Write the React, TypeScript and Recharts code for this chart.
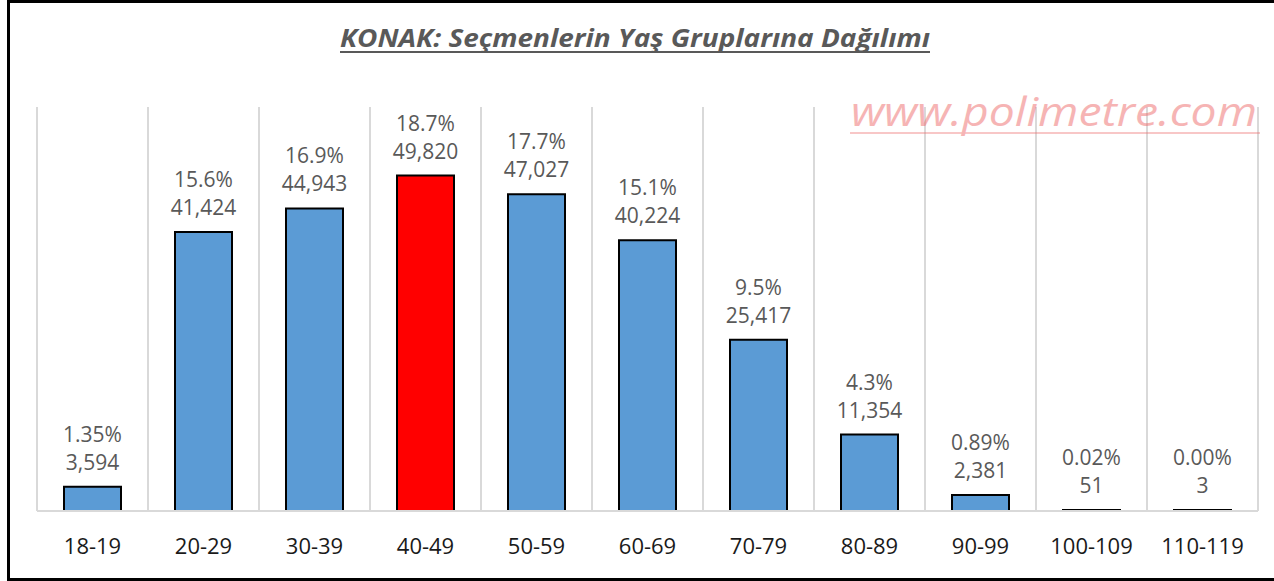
import React from "react";
import { BarChart, Bar, XAxis, YAxis, CartesianGrid, Cell, LabelList } from "recharts";

const categories = ["18-19", "20-29", "30-39", "40-49", "50-59", "60-69", "70-79", "80-89", "90-99", "100-109", "110-119"];
const voters = [3594, 41424, 44943, 49820, 47027, 40224, 25417, 11354, 2381, 51, 3];
const percentLabels = ["1.35%", "15.6%", "16.9%", "18.7%", "17.7%", "15.1%", "9.5%", "4.3%", "0.89%", "0.02%", "0.00%"];
const highlightIndex = 3;

const TITLE = "KONAK: Seçmenlerin Yaş Gruplarına Dağılımı";
const WATERMARK = "www.polimetre.com";

const data = categories.map((c, i) => ({ cat: c, value: voters[i], pct: percentLabels[i] }));

const FONT = "'Open Sans', 'Noto Sans', sans-serif";

const TwoLineLabel = (props: any) => {
  const { x, y, width, index } = props;
  const cx = x + width / 2;
  return (
    <g>
      <text x={cx} y={y - 53} textAnchor="middle" dominantBaseline="central" fontFamily={FONT} fontSize={21} fill="#595959">
        {percentLabels[index]}
      </text>
      <text x={cx} y={y - 25} textAnchor="middle" dominantBaseline="central" fontFamily={FONT} fontSize={21} fill="#595959">
        {voters[index].toLocaleString("en-US")}
      </text>
    </g>
  );
};

const Tick = (props: any) => {
  const { x, y, payload } = props;
  return (
    <text x={x} y={y + 43} textAnchor="middle" fontFamily={FONT} fontSize={22} fill="#1a1a1a">
      {payload.value}
    </text>
  );
};

export default function App() {
  return (
    <div style={{ position: "absolute", left: 0, top: 0, width: 1274, height: 581, overflow: "hidden", background: "#fff" }}>
      <div style={{ position: "absolute", left: 7, top: 0, width: 1290, height: 575, border: "3px solid #000", boxSizing: "content-box" }} />
      <div style={{ position: "absolute", left: 0, top: 0 }}>
        <BarChart width={1274} height={581} data={data} margin={{ top: 107, right: 16, bottom: 0, left: 37 }} barSize={57}>
          <CartesianGrid
            horizontal={false}
            stroke="#d9d9d9"
            strokeWidth={2}
            verticalCoordinatesGenerator={({ offset }: any) =>
              Array.from({ length: categories.length + 1 }, (_, i) => offset.left + (i * offset.width) / categories.length)
            }
          />
          <XAxis
            dataKey="cat"
            height={70}
            tickSize={0}
            tickMargin={0}
            tickLine={false}
            axisLine={{ stroke: "#d9d9d9", strokeWidth: 2 }}
            tick={<Tick />}
            interval={0}
          />
          <YAxis hide domain={[0, 60000]} />
          <Bar dataKey="value" stroke="#000" strokeWidth={2} minPointSize={1} isAnimationActive={false}>
            {data.map((d, i) => (
              <Cell key={d.cat} fill={i === highlightIndex ? "#FF0000" : "#5B9BD5"} />
            ))}
            <LabelList dataKey="value" content={<TwoLineLabel />} />
          </Bar>
        </BarChart>
      </div>
      <svg width={1274} height={581} style={{ position: "absolute", left: 0, top: 0, pointerEvents: "none" }}>
        <text x={340} y={47} textLength={590} lengthAdjust="spacingAndGlyphs" fontFamily={FONT} fontSize={25} fontWeight="bold" fontStyle="italic" fill="#595959">
          {TITLE}
        </text>
        <line x1={340} x2={930} y1={52} y2={52} stroke="#595959" strokeWidth={2} />
        <g opacity={0.5}>
          <text x={851} y={126} textLength={406} lengthAdjust="spacingAndGlyphs" fontFamily={FONT} fontSize={40} fontStyle="italic" fill="#ee6b6b">
            {WATERMARK}
          </text>
          <line x1={850} x2={1260} y1={133} y2={133} stroke="#ee6b6b" strokeWidth={1.5} />
        </g>
      </svg>
    </div>
  );
}
